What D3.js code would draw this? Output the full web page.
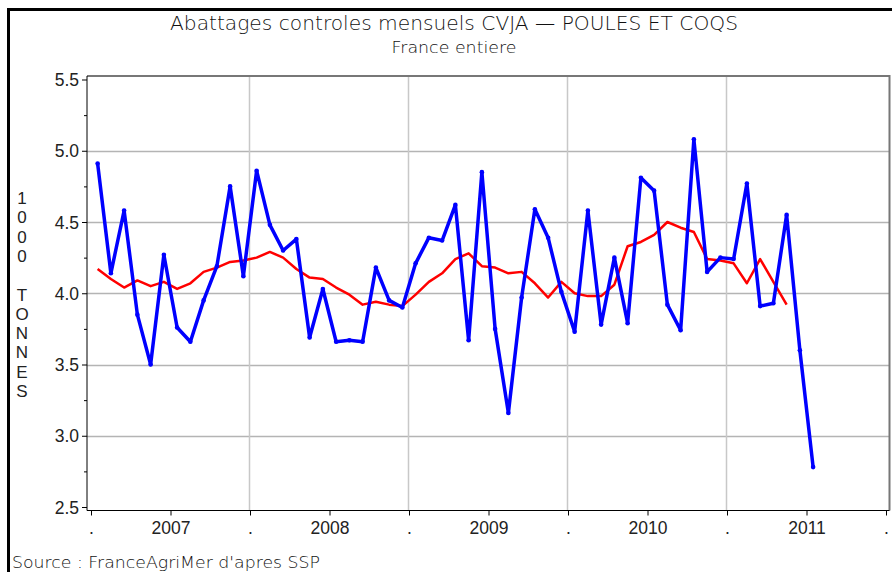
<!DOCTYPE html>
<html lang="fr">
<head>
    <meta charset="utf-8">
    <title>Abattages controles mensuels CVJA</title>
    <script type="text/javascript" src="https://cdn.jsdelivr.net/npm/d3@7"></script>
    <style>
        body { margin: 0; background: #fff; }
        .axis text { font-family: "Liberation Sans", Arial, sans-serif; font-size: 17.5px; fill: #222; }
        .axis path, .axis line { stroke: #000; }
    </style>
</head>
<body>
<div id="graph"></div>
<script type="text/javascript">
    var w = 892;
    var h = 572;

    // monthly values, 1000 tonnes, Jan 2007 -> Jul 2011
    var monthly = [
        4.91, 4.14, 4.58, 3.85, 3.50, 4.27, 3.76, 3.66, 3.95, 4.19, 4.75, 4.12,
        4.86, 4.48, 4.30, 4.38, 3.69, 4.03, 3.66, 3.67, 3.66, 4.18, 3.95, 3.90,
        4.21, 4.39, 4.37, 4.62, 3.67, 4.85, 3.75, 3.16, 3.97, 4.59, 4.39, 4.01,
        3.73, 4.58, 3.78, 4.25, 3.79, 4.81, 4.72, 3.92, 3.74, 5.08, 4.15, 4.25,
        4.24, 4.77, 3.91, 3.93, 4.55, 3.60, 2.78
    ];
    // smoothed series (red), Jan 2007 -> May 2011
    var smoothed = [
        4.17, 4.10, 4.04, 4.09, 4.05, 4.08, 4.03, 4.07, 4.15, 4.18, 4.22, 4.23,
        4.25, 4.29, 4.25, 4.17, 4.11, 4.10, 4.04, 3.99, 3.92, 3.94, 3.92, 3.91,
        3.99, 4.08, 4.14, 4.24, 4.28, 4.19, 4.18, 4.14, 4.15, 4.07, 3.97, 4.08,
        4.00, 3.98, 3.98, 4.06, 4.33, 4.36, 4.41, 4.50, 4.46, 4.43, 4.24, 4.23,
        4.21, 4.07, 4.24, 4.08, 3.92
    ];
    var years = ["2007", "2008", "2009", "2010", "2011"];
    var yTicks = [2.5, 3.0, 3.5, 4.0, 4.5, 5.0, 5.5];

    var svg = d3.select("#graph")
        .append("svg")
        .attr("width", w)
        .attr("height", h);

    // outer frame (cropped on right and bottom)
    svg.append("rect")
        .attr("x", 8.5)
        .attr("y", 9.5)
        .attr("width", w + 20)
        .attr("height", h + 20)
        .attr("fill", "none")
        .attr("stroke", "#000")
        .attr("stroke-width", 3);

    // x in months since Jan 2007
    var xScale = d3.scaleLinear()
        .domain([0, 60])
        .range([91, 886]);

    var yScale = d3.scaleLinear()
        .domain([2.5, 5.5])
        .range([507, 79.5]);

    var plotLeft = 87, plotRight = 889.5, plotTop = 76, plotBottom = 510.5;

    // grid
    svg.append("g")
        .selectAll("line")
        .data(yTicks.slice(1, -1))
        .enter()
        .append("line")
        .attr("x1", plotLeft)
        .attr("x2", plotRight)
        .attr("y1", function (d) { return Math.round(yScale(d)) + 0.5; })
        .attr("y2", function (d) { return Math.round(yScale(d)) + 0.5; })
        .attr("stroke", "#b4b4b4")
        .attr("stroke-width", 1.5);

    svg.append("g")
        .selectAll("line")
        .data([12, 24, 36, 48])
        .enter()
        .append("line")
        .attr("x1", function (d) { return Math.round(xScale(d)) - 0.5; })
        .attr("x2", function (d) { return Math.round(xScale(d)) - 0.5; })
        .attr("y1", plotTop)
        .attr("y2", plotBottom)
        .attr("stroke", "#c8c8c8")
        .attr("stroke-width", 1.5);

    // plot frame: top and right in grey
    svg.append("path")
        .attr("d", "M" + plotLeft + "," + plotTop + "H" + plotRight + "V" + plotBottom)
        .attr("fill", "none")
        .attr("stroke", "#777")
        .attr("stroke-width", 2);

    // y axis with minor ticks
    var yAxis = d3.axisLeft(yScale)
        .tickValues(yTicks)
        .tickSize(5)
        .tickSizeOuter(0)
        .tickFormat(d3.format(".1f"));

    var gy = svg.append("g")
        .attr("class", "axis")
        .attr("transform", "translate(" + plotLeft + ",0)")
        .call(yAxis);
    gy.select(".domain").attr("d", "M0," + plotTop + "V" + plotBottom);
    gy.selectAll("text").attr("x", -8).attr("dy", "0.35em");

    svg.append("g")
        .attr("class", "axis")
        .attr("transform", "translate(" + plotLeft + ",0)")
        .call(d3.axisLeft(yScale).tickValues(d3.range(2.75, 5.5, 0.5)).tickSize(3).tickFormat(""))
        .select(".domain").remove();

    // x axis: ticks every half year, "." at year boundaries
    var xAxis = d3.axisBottom(xScale)
        .tickValues(d3.range(0, 61, 6))
        .tickSize(5)
        .tickSizeOuter(0)
        .tickFormat(function (d) {
            return d % 12 === 0 ? "." : years[Math.floor(d / 12)];
        });

    var gx = svg.append("g")
        .attr("class", "axis")
        .attr("transform", "translate(0," + plotBottom + ")")
        .call(xAxis);
    gx.select(".domain").attr("d", "M" + plotLeft + ",0H" + plotRight);
    gx.selectAll("text").attr("y", 11);

    // lines
    var line = d3.line()
        .x(function (d, i) { return xScale(i + 0.5); })
        .y(function (d) { return yScale(d); });

    svg.append("path")
        .datum(smoothed)
        .attr("d", line)
        .attr("fill", "none")
        .attr("stroke", "#ff0000")
        .attr("stroke-width", 2.5)
        .attr("stroke-linejoin", "round");

    svg.append("path")
        .datum(monthly)
        .attr("d", line)
        .attr("fill", "none")
        .attr("stroke", "#0000ff")
        .attr("stroke-width", 3.5)
        .attr("stroke-linejoin", "round");

    svg.append("g")
        .selectAll("circle")
        .data(monthly)
        .enter()
        .append("circle")
        .attr("cx", function (d, i) { return xScale(i + 0.5); })
        .attr("cy", function (d) { return yScale(d); })
        .attr("r", 2.3)
        .attr("fill", "#0000ff");

    // titles
    svg.append("text")
        .attr("x", 454)
        .attr("y", 30)
        .attr("text-anchor", "middle")
        .attr("textLength", 568)
        .attr("lengthAdjust", "spacingAndGlyphs")
        .style("font-family", "'DejaVu Sans', sans-serif")
        .style("font-size", "19px")
        .style("font-weight", "200")
        .attr("fill", "#111")
        .text("Abattages controles mensuels CVJA \u2014 POULES ET COQS");

    svg.append("text")
        .attr("x", 454)
        .attr("y", 53)
        .attr("text-anchor", "middle")
        .attr("textLength", 125)
        .attr("lengthAdjust", "spacingAndGlyphs")
        .style("font-family", "'DejaVu Sans', sans-serif")
        .style("font-size", "15px")
        .style("font-weight", "200")
        .attr("fill", "#111")
        .text("France entiere");

    // vertical y label, one letter per line
    var yLabel = "1000 TONNES".split("");
    svg.append("g")
        .selectAll("text")
        .data(yLabel)
        .enter()
        .append("text")
        .attr("x", 22)
        .attr("y", function (d, i) { return 204 + i * 19.3; })
        .attr("text-anchor", "middle")
        .style("font-family", "'Liberation Sans', sans-serif")
        .style("font-size", "17px")
        .attr("fill", "#222")
        .text(function (d) { return d; });

    svg.append("text")
        .attr("x", 12)
        .attr("y", 568)
        .attr("textLength", 308)
        .attr("lengthAdjust", "spacingAndGlyphs")
        .style("font-family", "'DejaVu Sans', sans-serif")
        .style("font-size", "15px")
        .style("font-weight", "200")
        .attr("fill", "#111")
        .text("Source : FranceAgriMer d'apres SSP");
</script>
</body>
</html>
